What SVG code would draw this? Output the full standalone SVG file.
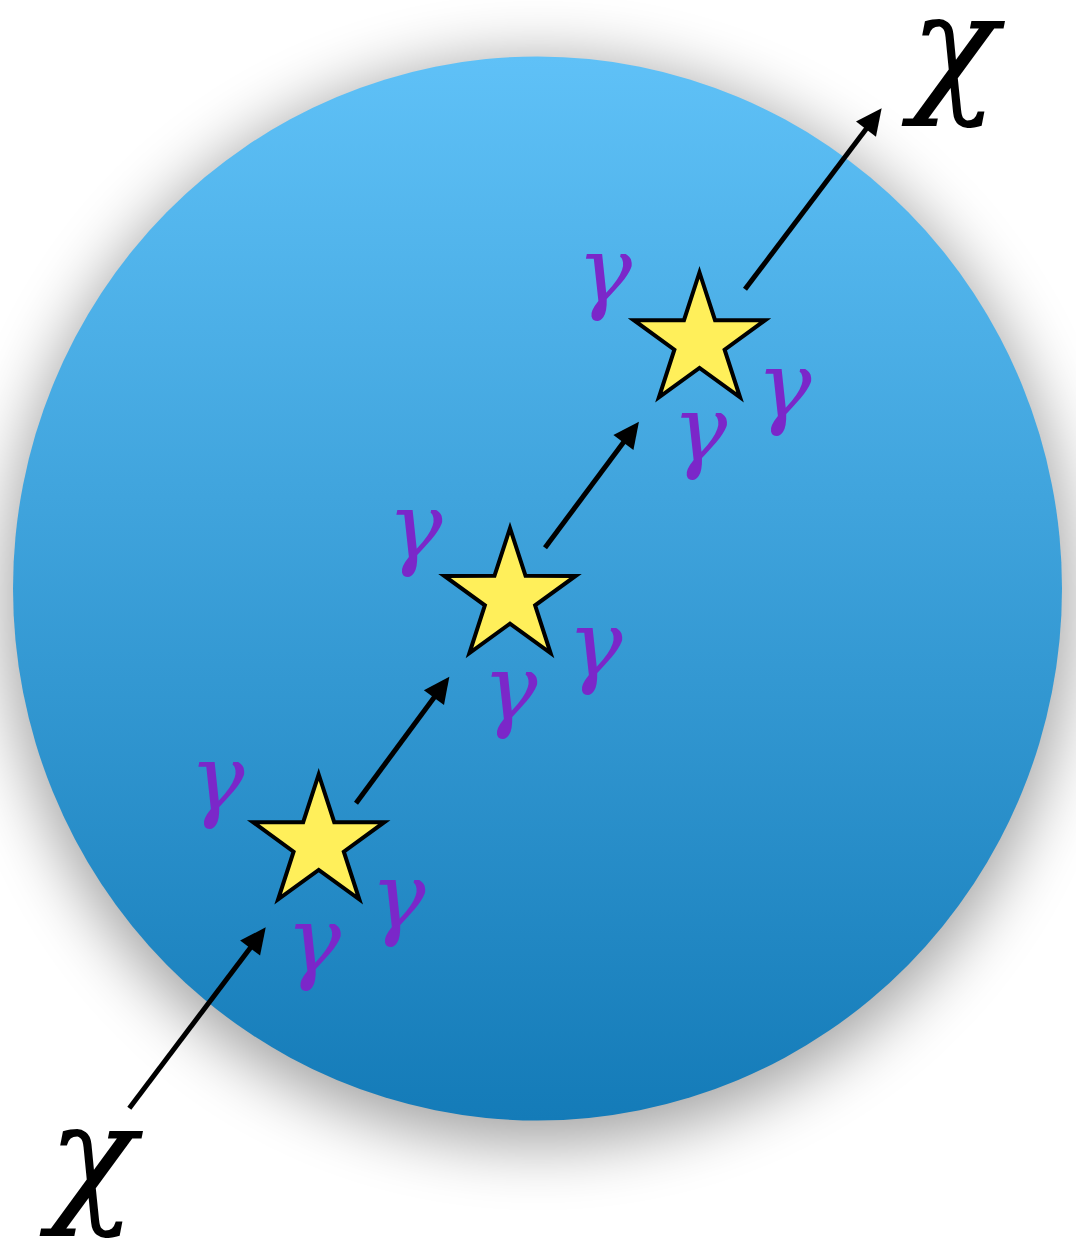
<svg xmlns="http://www.w3.org/2000/svg" xmlns:xlink="http://www.w3.org/1999/xlink" width="1076" height="1238" viewBox="0 0 1076 1238">
  <style>
    .star { fill: #ffef5a; stroke: #000; stroke-width: 4; stroke-linejoin: miter; stroke-miterlimit: 10; }
    .gamma { font-family: "DejaVu Serif", serif; font-style: italic; font-size: 92px; fill: #7b27c9; text-anchor: middle; }
    .chi { font-family: "DejaVu Serif", serif; font-style: italic; font-size: 145px; fill: #000; text-anchor: middle; }
    .arrow { stroke: #000; stroke-width: 5; fill: none; marker-end: url(#head); }
  </style>
  <defs>
    <linearGradient id="ball" x1="0" y1="0" x2="0" y2="1">
      <stop offset="0" stop-color="#5fc1f7"/>
      <stop offset="1" stop-color="#147bb8"/>
    </linearGradient>
    <filter id="shadow" x="-30%" y="-30%" width="160%" height="160%">
      <feGaussianBlur stdDeviation="32"/>
    </filter>
    <marker id="head" markerUnits="userSpaceOnUse" markerWidth="30" markerHeight="30" refX="4" refY="12.5" orient="auto" overflow="visible">
      <path d="M0,0 L26,12.5 L0,25 Z" fill="#000"/>
    </marker>
    <path id="starShape" d="M0,-69 L15.52,-21.36 L65.62,-21.32 L25.11,8.16 L40.56,55.82 L0,26.4 L-40.56,55.82 L-25.11,8.16 L-65.62,-21.32 L-15.52,-21.36 Z"/>
  </defs>

  <g id="sphere">
    <ellipse cx="538" cy="602" rx="532" ry="542" fill="#000" opacity="0.36" filter="url(#shadow)"/>
    <ellipse cx="537.5" cy="588.5" rx="524.5" ry="532" fill="url(#ball)"/>
  </g>

  <g id="connectors">
    <line class="arrow" x1="129.3" y1="1108.3" x2="252.5" y2="944.9"/>
    <line class="arrow" x1="356" y1="803.3" x2="436.3" y2="694.4"/>
    <line class="arrow" x1="545" y1="547.7" x2="625.8" y2="439.3"/>
    <line class="arrow" x1="745" y1="289.3" x2="868.4" y2="125.9"/>
  </g>

  <g id="star1">
    <use xlink:href="#starShape" class="star" transform="translate(318.7,843.5)"/>
    <text class="gamma" x="217" y="810">γ</text>
    <text class="gamma" x="313.5" y="972">γ</text>
    <text class="gamma" x="398" y="928">γ</text>
  </g>
  <g id="star2">
    <use xlink:href="#starShape" class="star" transform="translate(510,597.2)"/>
    <text class="gamma" x="415" y="558">γ</text>
    <text class="gamma" x="510" y="720">γ</text>
    <text class="gamma" x="595" y="676">γ</text>
  </g>
  <g id="star3">
    <use xlink:href="#starShape" class="star" transform="translate(699.5,341.5)"/>
    <text class="gamma" x="604.5" y="302">γ</text>
    <text class="gamma" x="699.7" y="461">γ</text>
    <text class="gamma" x="784" y="417">γ</text>
  </g>

  <g id="chi-in">
    <text class="chi" x="92" y="1206">χ</text>
  </g>
  <g id="chi-out">
    <text class="chi" x="954" y="96">χ</text>
  </g>
</svg>
